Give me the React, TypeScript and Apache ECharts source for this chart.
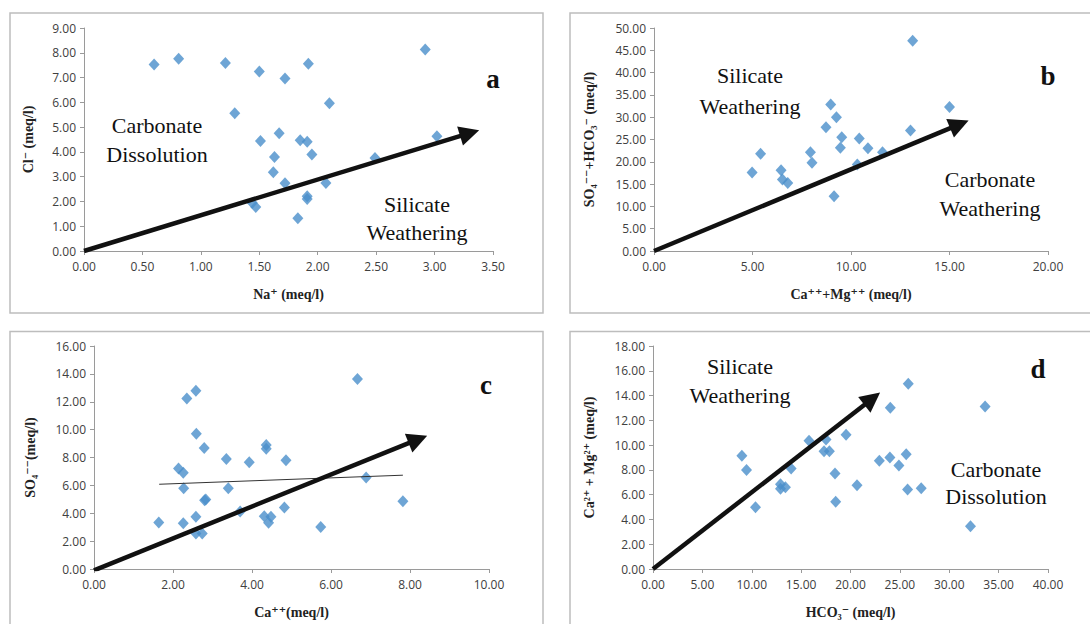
import React, { useEffect, useRef } from "react";
import * as echarts from "echarts";

// Panel a: Na+ vs Cl-
const aNa = [0.60, 0.81, 1.21, 1.50, 1.72, 1.92, 2.92, 2.10, 1.29, 1.67, 1.51, 1.85, 1.91, 1.63, 1.95, 1.62, 1.72, 2.07, 1.91, 1.91, 2.49, 3.02, 1.44, 1.47, 1.83];
const aCl = [7.53, 7.76, 7.59, 7.24, 6.96, 7.56, 8.13, 5.96, 5.56, 4.75, 4.44, 4.47, 4.41, 3.79, 3.89, 3.18, 2.73, 2.74, 2.21, 2.10, 3.75, 4.63, 1.94, 1.78, 1.32];
const aArrow = [[0, 0], [3.3, 4.76]];

// Panel b: Ca+Mg vs SO4+HCO3
const bCaMg = [4.98, 5.41, 6.45, 6.52, 6.79, 7.94, 8.02, 8.97, 8.73, 9.26, 9.53, 9.46, 9.14, 10.42, 10.86, 10.32, 11.60, 13.02, 13.13, 15.00];
const bSO4HCO3 = [17.59, 21.78, 18.11, 16.02, 15.27, 22.16, 19.76, 32.86, 27.77, 30.01, 25.52, 23.13, 12.28, 25.22, 23.05, 19.39, 22.16, 27.02, 47.16, 32.26];
const bArrow = [[0, 0], [15.5, 28.4]];

// Panel c: Ca vs SO4
const cCa = [1.64, 2.14, 2.26, 2.27, 2.26, 2.35, 2.58, 2.59, 2.58, 2.58, 2.74, 2.79, 2.80, 2.83, 3.35, 3.40, 3.70, 3.93, 4.36, 4.36, 4.31, 4.48, 4.42, 4.82, 4.86, 5.74, 6.67, 6.89, 7.82];
const cSO4 = [3.33, 7.21, 6.90, 5.80, 3.28, 12.24, 12.79, 9.70, 3.74, 2.54, 2.54, 8.69, 4.93, 4.98, 7.90, 5.80, 4.12, 7.66, 8.89, 8.62, 3.78, 3.74, 3.31, 4.41, 7.81, 3.02, 13.63, 6.56, 4.86];
const cTrend = [[1.65, 6.08], [7.82, 6.73]];
const cArrow = [[0, -0.1], [8.2, 9.3]];

// Panel d: HCO3 vs Ca+Mg
const dHCO3 = [9.00, 9.47, 10.38, 12.91, 12.91, 13.41, 13.99, 15.80, 17.52, 17.32, 17.86, 18.43, 18.50, 19.55, 20.66, 22.92, 24.03, 23.99, 24.90, 25.85, 25.64, 25.78, 27.16, 32.15, 33.63];
const dCaMg = [9.14, 8.00, 4.99, 6.84, 6.47, 6.60, 8.11, 10.35, 10.46, 9.51, 9.51, 7.71, 5.42, 10.83, 6.76, 8.73, 13.02, 9.00, 8.35, 14.96, 9.27, 6.41, 6.52, 3.45, 13.12];
const dArrow = [[0, 0], [22.2, 13.75]];

const BLUE = "#4A8FCB";
const tickFont = "'Open Sans', 'Liberation Sans', sans-serif";
const serif = "'Liberation Serif', 'DejaVu Serif', serif";

function zip(xs: number[], ys: number[]) {
  return xs.map((x, i) => [x, ys[i]]);
}

function makeAxis(idx: number, kind: "x" | "y", min: number, max: number, interval: number, name: string, gap: number) {
  return {
    type: "value",
    gridIndex: idx,
    min,
    max,
    interval,
    name,
    nameLocation: "middle",
    nameGap: gap,
    nameTextStyle: { fontFamily: serif, fontWeight: "bold", fontSize: 14, color: "#222" },
    axisLine: { show: true, lineStyle: { color: "#9a9a9a", width: 1 } },
    axisTick: { show: true, length: 4, lineStyle: { color: "#9a9a9a" } },
    splitLine: { show: false },
    axisLabel: {
      fontFamily: tickFont,
      fontSize: 12,
      color: "#404040",
      margin: kind === "x" ? 9 : 8,
      formatter: (v: number) => v.toFixed(2),
    },
  };
}

function scatter(idx: number, data: number[][]) {
  return {
    type: "scatter",
    xAxisIndex: idx,
    yAxisIndex: idx,
    data,
    symbol: "diamond",
    symbolSize: [11, 12],
    itemStyle: { color: BLUE },
    z: 2,
  };
}

function arrow(idx: number, coords: number[][]) {
  return {
    type: "lines",
    coordinateSystem: "cartesian2d",
    xAxisIndex: idx,
    yAxisIndex: idx,
    data: [{ coords }],
    symbol: ["none", "triangle"],
    symbolSize: [17, 20],
    lineStyle: { color: "#111", width: 4.5, opacity: 1, curveness: 0 },
    itemStyle: { color: "#111" },
    z: 5,
    silent: true,
  };
}

function label(x: number, y: number, text: string, size: number, bold = false, lh = 29) {
  return {
    type: "text",
    x,
    y,
    style: {
      text,
      fontFamily: serif,
      fontSize: size,
      fontWeight: bold ? "bold" : "normal",
      fill: "#111",
      align: "center",
      verticalAlign: "middle",
      lineHeight: lh,
    },
    z: 10,
  };
}

function border(x: number, y: number, w: number, h: number) {
  return {
    type: "rect",
    shape: { x, y, width: w, height: h },
    style: { fill: "none", stroke: "#bdbdbd", lineWidth: 1.5 },
    z: 0,
    silent: true,
  };
}

export default function App() {
  const ref = useRef<HTMLDivElement>(null);
  useEffect(() => {
    if (!ref.current) return;
    const chart = echarts.init(ref.current, undefined, { renderer: "svg" });
    chart.setOption({
      animation: false,
      backgroundColor: "#ffffff",
      grid: [
        { left: 84, top: 28, width: 409, height: 223 },
        { left: 654, top: 28, width: 394, height: 223 },
        { left: 94, top: 346, width: 395, height: 223 },
        { left: 653, top: 346, width: 395, height: 223 },
      ],
      xAxis: [
        makeAxis(0, "x", 0, 3.5, 0.5, "Na⁺ (meq/l)", 36),
        makeAxis(1, "x", 0, 20, 5, "Ca⁺⁺+Mg⁺⁺ (meq/l)", 36),
        makeAxis(2, "x", 0, 10, 2, "Ca⁺⁺(meq/l)", 36),
        makeAxis(3, "x", 0, 40, 5, "HCO₃⁻ (meq/l)", 36),
      ],
      yAxis: [
        makeAxis(0, "y", 0, 9, 1, "Cl⁻ (meq/l)", 49),
        makeAxis(1, "y", 0, 50, 5, "SO₄⁻⁻+HCO₃⁻ (meq/l)", 58),
        makeAxis(2, "y", 0, 16, 2, "SO₄⁻⁻(meq/l)", 57),
        makeAxis(3, "y", 0, 18, 2, "Ca²⁺ + Mg²⁺ (meq/l)", 57),
      ],
      series: [
        scatter(0, zip(aNa, aCl)),
        scatter(1, zip(bCaMg, bSO4HCO3)),
        scatter(2, zip(cCa, cSO4)),
        scatter(3, zip(dHCO3, dCaMg)),
        {
          type: "line",
          xAxisIndex: 2,
          yAxisIndex: 2,
          data: cTrend,
          symbol: "none",
          lineStyle: { color: "#333", width: 1 },
          z: 3,
        },
        arrow(0, aArrow),
        arrow(1, bArrow),
        arrow(2, cArrow),
        arrow(3, dArrow),
      ],
      graphic: [
        border(10, 13, 533, 300),
        border(570, 13, 540, 300),
        border(10, 331.5, 533, 310),
        border(570, 331.5, 540, 310),
        label(157, 140, "Carbonate\nDissolution", 22),
        label(417, 218, "Silicate\nWeathering", 22, false, 28),
        label(493, 79, "a", 27, true),
        label(750, 91, "Silicate\nWeathering", 22, false, 31),
        label(990, 194, "Carbonate\nWeathering", 22),
        label(1048, 76, "b", 27, true),
        label(486, 385, "c", 27, true),
        label(740, 381, "Silicate\nWeathering", 22),
        label(996, 483, "Carbonate\nDissolution", 22, false, 27),
        label(1038, 369, "d", 27, true),
      ],
    });
    return () => chart.dispose();
  }, []);
  return (
    <div
      ref={ref}
      style={{ position: "absolute", left: 0, top: 0, width: 1090, height: 624, background: "#fff" }}
    />
  );
}
